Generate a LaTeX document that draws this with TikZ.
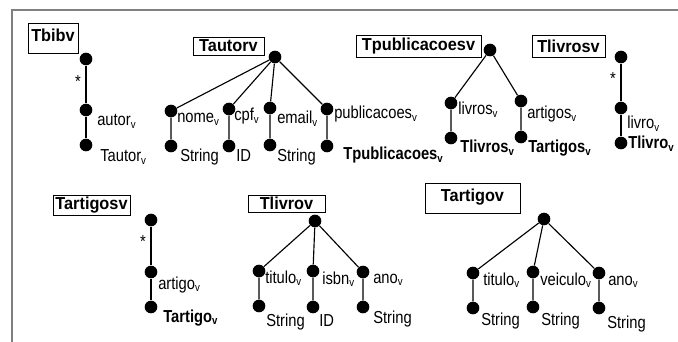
\documentclass[tikz,border=0pt]{standalone}
\usepackage{fontspec}
\setmainfont[FakeStretch=0.85]{Liberation Sans}
\newfontfamily\boxfont[FakeStretch=0.94]{Liberation Sans}
\newcommand{\vsub}{\raisebox{-0.3ex}{\fontsize{8.5}{8.5}\selectfont v}}

\begin{document}
\begin{tikzpicture}[x=0.75pt,y=-0.75pt,
  dot/.style={circle,fill=dotcolor,draw=none,inner sep=0pt,minimum size=9.5pt},
  edge/.style={draw=linecolor,line width=0.85pt},
  tbox/.style={draw=linecolor,line width=1.1pt,inner sep=0pt,anchor=north west},
  tname/.style={inner sep=0pt,font=\boxfont\bfseries\fontsize{13}{15}\selectfont},
  lbl/.style={anchor=west,inner sep=0pt,text height=9pt,text depth=0pt,font=\fontsize{13}{15}\selectfont},
  many/.style={inner sep=0pt,font=\fontsize{13}{13}\selectfont}]
\definecolor{dotcolor}{RGB}{0,0,0}
\definecolor{linecolor}{RGB}{0,0,0}
\definecolor{framecolor}{RGB}{128,128,128}
\useasboundingbox (0,0) rectangle (678,342);
% frame (top and left edge only)
\coordinate (framelow) at (12,342);
\coordinate (framecorner) at (12,10);
\coordinate (frameend) at (678,10);
\draw[framecolor,line width=1.5pt] (framelow) -- (framecorner) -- (frameend);
% type boxes
\node[tbox,minimum width=37.5pt,minimum height=22.5pt] (bibbox) at (28,23) {};
\node[tname] (bibname) at (53,35) {Tbibv};
\node[tbox,minimum width=53.25pt,minimum height=13.5pt] (autbox) at (193,37) {};
\node[tname] (autname) at (228.5,46) {Tautorv};
\node[tbox,minimum width=93.75pt,minimum height=16.5pt] (pubbox) at (356,35) {};
\node[tname] (pubname) at (418.5,46) {Tpublicacoesv};
\node[tbox,minimum width=54.75pt,minimum height=16.5pt] (livsbox) at (532,35) {};
\node[tname] (livsname) at (568.5,46) {Tlivrosv};
\node[tbox,minimum width=57.75pt,minimum height=15pt] (artsbox) at (53,195) {};
\node[tname] (artsname) at (91.5,205) {Tartigosv};
\node[tbox,minimum width=57.75pt,minimum height=12.75pt] (livbox) at (248,195) {};
\node[tname] (livname) at (286.5,203.5) {Tlivrov};
\node[tbox,minimum width=71.25pt,minimum height=22.5pt] (artbox) at (425,183) {};
\node[tname] (artname) at (472.5,197) {Tartigov};
% Tbibv
\node[dot] (bibtop) at (86,59) {};
\node[dot] (bibautor) at (86,110) {};
\node[dot] (bibtype) at (86,145) {};
\draw[edge] (bibtop) -- (bibautor) -- (bibtype);
\node[many] (bibstar) at (78,82) {*};
\node[lbl] (bibautorlbl) at (97,120) {autor\vsub};
\node[lbl] (bibtypelbl) at (100,156) {Tautor\vsub};
% Tautorv
\node[dot] (autroot) at (275,57) {};
\node[dot] (autnome) at (171,111) {};
\node[dot] (autnomet) at (171,146) {};
\node[dot] (autcpf) at (229,109) {};
\node[dot] (autcpft) at (229,146) {};
\node[dot] (autemail) at (270,108) {};
\node[dot] (autemailt) at (270,145) {};
\node[dot] (autpub) at (327,109) {};
\node[dot] (autpubt) at (327,146) {};
\draw[edge] (autroot) -- (autnome) -- (autnomet);
\draw[edge] (autroot) -- (autcpf) -- (autcpft);
\draw[edge] (autroot) -- (autemail) -- (autemailt);
\draw[edge] (autroot) -- (autpub) -- (autpubt);
\node[lbl] (autnomelbl) at (177,117) {nome\vsub};
\node[lbl] (autcpflbl) at (234,115) {cpf\vsub};
\node[lbl] (autemaillbl) at (277,118) {email\vsub};
\node[lbl] (autpublbl) at (334,113) {publicacoes\vsub};
\node[lbl] (autnometlbl) at (180,156) {String};
\node[lbl] (autcpftlbl) at (236,156) {ID};
\node[lbl] (autemailtlbl) at (277,156) {String};
\node[lbl] (autpubtlbl) at (343,154) {\textbf{Tpublicacoes\vsub}};
% Tpublicacoesv
\node[dot] (pubroot) at (490,50) {};
\node[dot] (publiv) at (451,103) {};
\node[dot] (publivt) at (451,138) {};
\node[dot] (pubart) at (521,101) {};
\node[dot] (pubartt) at (521,137) {};
\draw[edge] (pubroot) -- (publiv) -- (publivt);
\draw[edge] (pubroot) -- (pubart) -- (pubartt);
\node[lbl] (publivlbl) at (458,109) {livros\vsub};
\node[lbl] (pubartlbl) at (527,113) {artigos\vsub};
\node[lbl] (publivtlbl) at (460,147) {\textbf{Tlivros\vsub}};
\node[lbl] (pubarttlbl) at (528,147) {\textbf{Tartigos\vsub}};
% Tlivrosv
\node[dot] (livstop) at (621,57) {};
\node[dot] (livslivro) at (621,108) {};
\node[dot] (livstype) at (621,143) {};
\draw[edge] (livstop) -- (livslivro) -- (livstype);
\node[many] (livsstar) at (613,79) {*};
\node[lbl] (livslivrolbl) at (627,123) {livro\vsub};
\node[lbl] (livstypelbl) at (628,143) {\textbf{Tlivro\vsub}};
% Tartigosv
\node[dot] (artstop) at (151,220) {};
\node[dot] (artsartigo) at (151,272) {};
\node[dot] (artstype) at (151,307) {};
\draw[edge] (artstop) -- (artsartigo) -- (artstype);
\node[many] (artsstar) at (143,242) {*};
\node[lbl] (artsartigolbl) at (158,283) {artigo\vsub};
\node[lbl] (artstypelbl) at (163,316) {\textbf{Tartigo\vsub}};
% Tlivrov
\node[dot] (livroot) at (315,221) {};
\node[dot] (livtit) at (259,271) {};
\node[dot] (livtitt) at (259,306) {};
\node[dot] (livisbn) at (313,271) {};
\node[dot] (livisbnt) at (313,307) {};
\node[dot] (livano) at (363,272) {};
\node[dot] (livanot) at (363,307) {};
\draw[edge] (livroot) -- (livtit) -- (livtitt);
\draw[edge] (livroot) -- (livisbn) -- (livisbnt);
\draw[edge] (livroot) -- (livano) -- (livanot);
\node[lbl] (livtitlbl) at (265,277) {titulo\vsub};
\node[lbl] (livisbnlbl) at (322,278) {isbn\vsub};
\node[lbl] (livanolbl) at (373,277) {ano\vsub};
\node[lbl] (livtittlbl) at (266,320) {String};
\node[lbl] (livisbntlbl) at (319,320) {ID};
\node[lbl] (livanotlbl) at (373,317) {String};
% Tartigov
\node[dot] (artroot) at (544,219) {};
\node[dot] (arttit) at (473,273) {};
\node[dot] (arttitt) at (473,308) {};
\node[dot] (artvei) at (533,272) {};
\node[dot] (artveit) at (533,307) {};
\node[dot] (artano) at (599,273) {};
\node[dot] (artanot) at (599,308) {};
\draw[edge] (artroot) -- (arttit) -- (arttitt);
\draw[edge] (artroot) -- (artvei) -- (artveit);
\draw[edge] (artroot) -- (artano) -- (artanot);
\node[lbl] (arttitlbl) at (483,279) {titulo\vsub};
\node[lbl] (artveilbl) at (540,279) {veiculo\vsub};
\node[lbl] (artanolbl) at (608,279) {ano\vsub};
\node[lbl] (arttittlbl) at (481,319) {String};
\node[lbl] (artveitlbl) at (541,319) {String};
\node[lbl] (artanotlbl) at (607,322) {String};
\end{tikzpicture}
\end{document}
